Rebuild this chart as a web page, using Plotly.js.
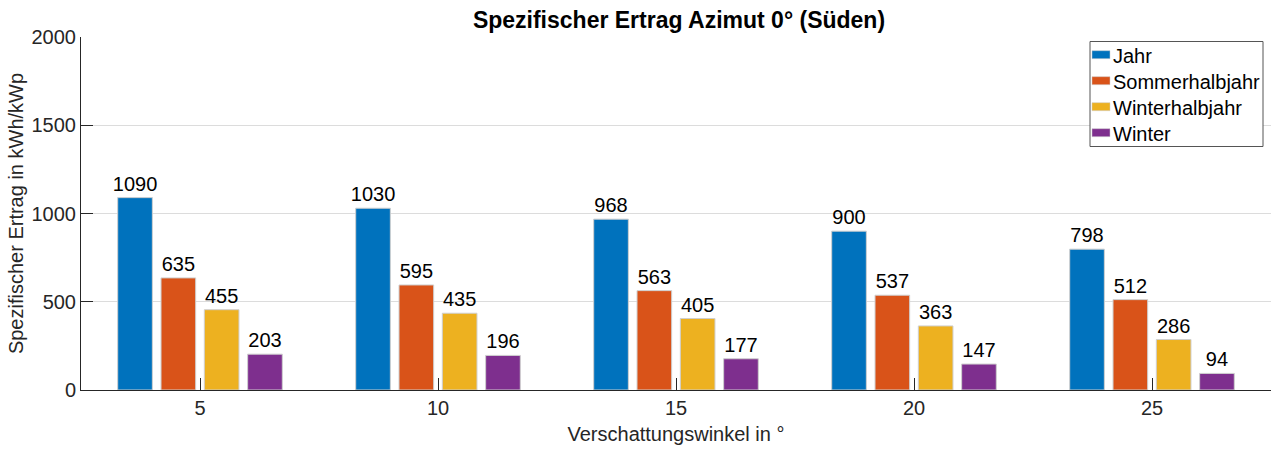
<!DOCTYPE html>
<html>
<head>
<meta charset="utf-8">
<script src="https://cdn.plot.ly/plotly-3.0.1.min.js"></script>
<style>html,body{margin:0;padding:0;background:#fff;}#chart{width:1274px;height:451px;}</style>
</head>
<body>
<div id="chart"></div>
<script>
const categories = ['5', '10', '15', '20', '25'];
const jahr = [1090, 1030, 968, 900, 798];
const sommerhalbjahr = [635, 595, 563, 537, 512];
const winterhalbjahr = [455, 435, 405, 363, 286];
const winter = [203, 196, 177, 147, 94];

const seriesNames = ['Jahr', 'Sommerhalbjahr', 'Winterhalbjahr', 'Winter'];
const seriesValues = [jahr, sommerhalbjahr, winterhalbjahr, winter];
const colors = ['#0072BD', '#D95319', '#EDB120', '#7E2F8E'];

const font = 'Liberation Sans, Arial, sans-serif';

const traces = seriesValues.map((vals, i) => ({
  type: 'bar',
  name: seriesNames[i],
  x: categories,
  y: vals,
  marker: {color: colors[i], line: {color: '#cfcfcf', width: 1}},
  text: vals.map(String),
  textposition: 'outside',
  constraintext: 'none',
  cliponaxis: false,
  textfont: {family: font, size: 20, color: '#000'},
  hoverinfo: 'x+y+name',
  showlegend: false
}));

// plot area in pixels
const M = {l: 81, r: 3, t: 37, b: 61};
const W = 1274, H = 451;
const PW = W - M.l - M.r, PH = H - M.t - M.b;
const px = v => (v - M.l) / PW;
const py = v => 1 - (v - M.t) / PH;

// legend drawn as shapes + annotations
const shapes = [{
  type: 'rect', xref: 'paper', yref: 'paper', layer: 'above',
  x0: px(1090), x1: px(1263), y0: py(146.5), y1: py(41.5),
  line: {color: '#555', width: 1}, fillcolor: '#fff'
}];
const annotations = [];
seriesNames.forEach((n, i) => {
  const cy = 54.7 + i * 26;
  shapes.push({
    type: 'rect', xref: 'paper', yref: 'paper', layer: 'above',
    x0: px(1092), x1: px(1110), y0: py(cy + 4), y1: py(cy - 4),
    line: {color: '#cfcfcf', width: 0.5}, fillcolor: colors[i]
  });
  annotations.push({
    xref: 'paper', yref: 'paper', x: px(1111), y: py(cy + 1.5),
    xanchor: 'left', yanchor: 'middle', showarrow: false,
    text: n, font: {family: font, size: 20, color: '#000'}
  });
});

const layout = {
  width: W,
  height: H,
  margin: M,
  paper_bgcolor: '#fff',
  plot_bgcolor: '#fff',
  font: {family: font, size: 20, color: '#262626'},
  barmode: 'group',
  bargap: 0.272,
  bargroupgap: 0.2,
  title: {
    text: '<b>Spezifischer Ertrag Azimut 0° (Süden)</b>',
    font: {family: font, size: 23, color: '#000'},
    x: 679 / W, xref: 'container', xanchor: 'center',
    y: 1 - 20 / H, yref: 'container', yanchor: 'middle'
  },
  xaxis: {
    type: 'category',
    range: [-0.5, 4.5],
    showline: true,
    linecolor: '#262626',
    linewidth: 1,
    ticks: 'inside',
    ticklen: 12,
    tickcolor: '#262626',
    showgrid: false,
    zeroline: false,
    tickfont: {family: font, size: 20, color: '#262626'},
    title: {text: 'Verschattungswinkel in °', font: {family: font, size: 20, color: '#262626'}, standoff: 8}
  },
  yaxis: {
    range: [0, 2000],
    tickvals: [0, 500, 1000, 1500, 2000],
    showline: true,
    linecolor: '#262626',
    linewidth: 1,
    ticks: 'inside',
    ticklen: 12,
    tickcolor: '#262626',
    showgrid: true,
    gridcolor: '#dcdcdc',
    zeroline: false,
    tickfont: {family: font, size: 20, color: '#262626'},
    title: {text: 'Spezifischer Ertrag in kWh/kWp', font: {family: font, size: 20, color: '#262626'}, standoff: 2}
  },
  showlegend: false,
  shapes: shapes,
  annotations: annotations
};

Plotly.newPlot('chart', traces, layout, {displayModeBar: false, staticPlot: true});
</script>
</body>
</html>
